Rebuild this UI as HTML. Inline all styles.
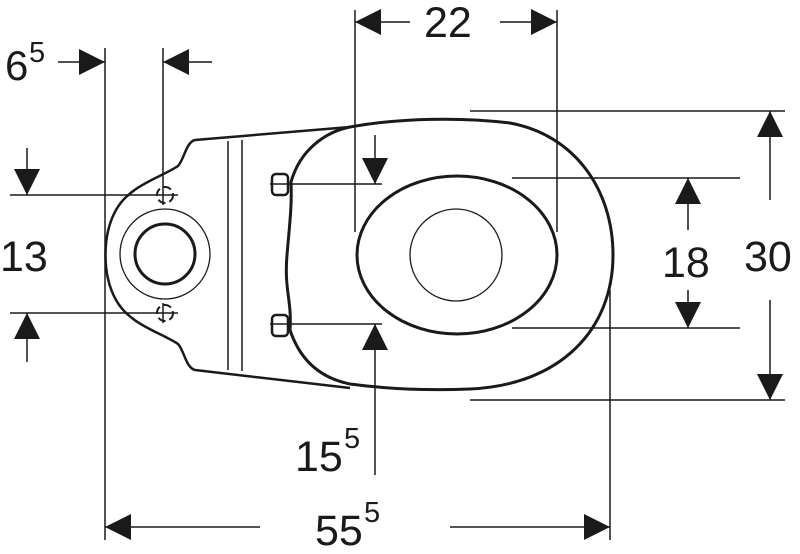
<!DOCTYPE html>
<html><head><meta charset="utf-8"><style>
html,body{margin:0;padding:0;background:#fff;}
svg{display:block;}
text{font-family:"Liberation Sans",sans-serif;fill:#1a1a1a;}
</style></head><body>
<svg width="800" height="554" viewBox="0 0 800 554" xmlns="http://www.w3.org/2000/svg">
<defs>
<marker id="a" viewBox="0 0 10 10" refX="10" refY="5" markerWidth="26" markerHeight="26" markerUnits="userSpaceOnUse" orient="auto"><path d="M0,0L10,5L0,10Z" fill="#1a1a1a"/></marker>
</defs>
<g stroke="#1a1a1a" fill="none">
<path d="M195,140 C186,142 184,160 178,166 C160,178 130,185 116,210 C102,235 102,275 116,300 C130,325 160,332 178,344 C184,350 186,368 195,370 L350,388" stroke-width="2.5" fill="#fff"/>
<path d="M195,140 L350,127" stroke-width="2.5"/>
<line x1="228" y1="141" x2="228" y2="370" stroke-width="1.5"/>
<line x1="242" y1="140" x2="242" y2="371" stroke-width="1.5"/>
<circle cx="165" cy="254" r="45" stroke-width="1.3"/>
<circle cx="165" cy="254" r="30" stroke-width="3"/>
<path d="M350,127 C400,118 460,117 510,123 C575,135 613,190 613,255 C613,330 560,385 470,389 C420,391 380,388 350,384 C320,378 300,360 290,330 C292,300 284,290 287,255 C290,220 292,205 291,182 C300,150 325,132 350,127Z" stroke-width="3" fill="#fff"/>
<ellipse cx="457" cy="255" rx="100" ry="79" stroke-width="3"/>
<circle cx="456" cy="255" r="46" stroke-width="1.3"/>
<rect x="272" y="174" width="16" height="21" rx="4" stroke-width="2.5" fill="#fff"/>
<rect x="272" y="315" width="16" height="21" rx="4" stroke-width="2.5" fill="#fff"/>
<circle cx="165" cy="195" r="8" stroke-width="2" stroke-dasharray="8 4"/>
<circle cx="165" cy="313" r="8" stroke-width="2" stroke-dasharray="8 4"/>
</g>
<g stroke="#1a1a1a" fill="none" stroke-width="1.5">
<line x1="105" y1="48" x2="105" y2="540"/>
<line x1="163" y1="48" x2="163" y2="205"/>
<line x1="163" y1="303" x2="163" y2="323"/>
<line x1="355" y1="10" x2="355" y2="232"/>
<line x1="557" y1="10" x2="557" y2="232"/>
<line x1="470" y1="111" x2="785" y2="111"/>
<line x1="470" y1="400" x2="785" y2="400"/>
<line x1="512" y1="178" x2="740" y2="178"/>
<line x1="512" y1="328" x2="740" y2="328"/>
<line x1="10" y1="195" x2="178" y2="195"/>
<line x1="10" y1="313" x2="178" y2="313"/>
<line x1="270" y1="184" x2="382" y2="184"/>
<line x1="270" y1="324" x2="382" y2="324"/>
<line x1="610" y1="290" x2="610" y2="540"/>
<line x1="58" y1="62" x2="105" y2="62" marker-end="url(#a)"/>
<line x1="212" y1="62" x2="163" y2="62" marker-end="url(#a)"/>
<line x1="410" y1="22" x2="355" y2="22" marker-end="url(#a)"/>
<line x1="500" y1="22" x2="557" y2="22" marker-end="url(#a)"/>
<line x1="770" y1="200" x2="770" y2="111" marker-end="url(#a)"/>
<line x1="770" y1="300" x2="770" y2="400" marker-end="url(#a)"/>
<line x1="688" y1="230" x2="688" y2="178" marker-end="url(#a)"/>
<line x1="688" y1="290" x2="688" y2="328" marker-end="url(#a)"/>
<line x1="27" y1="148" x2="27" y2="195" marker-end="url(#a)"/>
<line x1="27" y1="362" x2="27" y2="313" marker-end="url(#a)"/>
<line x1="375" y1="135" x2="375" y2="184" marker-end="url(#a)"/>
<line x1="375" y1="475" x2="375" y2="324" marker-end="url(#a)"/>
<line x1="260" y1="527" x2="105" y2="527" marker-end="url(#a)"/>
<line x1="450" y1="527" x2="610" y2="527" marker-end="url(#a)"/>
</g>
<text x="5" y="80" font-size="42">6</text><text x="29" y="62" font-size="29">5</text>
<text x="424" y="37" font-size="43">22</text>
<text x="744" y="271" font-size="43">30</text>
<text x="662" y="277" font-size="43">18</text>
<text x="0" y="271" font-size="43">13</text>
<text x="295" y="471" font-size="43">15</text><text x="344" y="448" font-size="29">5</text>
<text x="315" y="545" font-size="43">55</text><text x="364" y="522" font-size="29">5</text>
</svg>
</body></html>
